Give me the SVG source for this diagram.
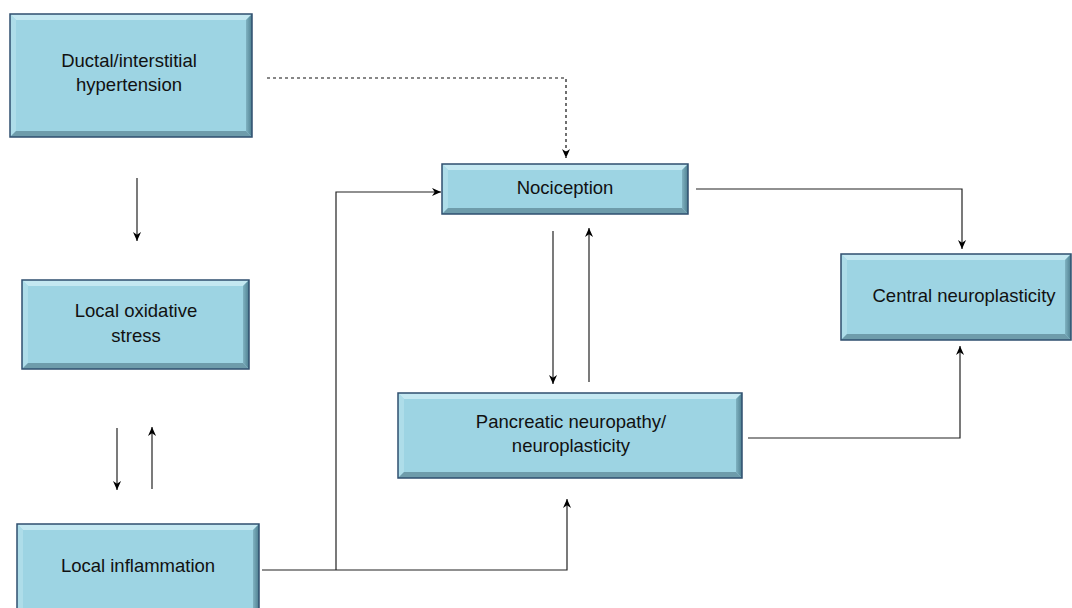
<svg xmlns="http://www.w3.org/2000/svg" width="1072" height="608" viewBox="0 0 1072 608">
<defs>
<marker id="ah" viewBox="0 0 10 10" refX="10" refY="5" markerWidth="10" markerHeight="9" markerUnits="userSpaceOnUse" orient="auto">
<path d="M0,0.5 L10,5 L0,9.5 L3,5 Z" fill="#000"/>
</marker>
<linearGradient id="gr" x1="0" y1="0" x2="1" y2="0">
<stop offset="0" stop-color="#7FB2C1"/>
<stop offset="1" stop-color="#4E7F90"/>
</linearGradient>
</defs>
<style>
.face{fill:#9DD4E3}
.bt{fill:#C4E8F1}
.bl{fill:#AEDDE9}
.br{fill:url(#gr)}
.bb{fill:#6E9CAB}
.edge{fill:none;stroke:#2F4F6F;stroke-width:1.5}
.lbl{font-family:"Liberation Sans",Arial,sans-serif;font-size:18.5px;fill:#111;text-anchor:middle}
.c{fill:none;stroke:#222;stroke-width:1.2}
.d{fill:none;stroke:#111;stroke-width:1.2;stroke-dasharray:3,3}
</style>

<g id="connectors">
<path class="d" d="M267,78 H566 V158" marker-end="url(#ah)"/>
<path class="c" d="M137,178 V241" marker-end="url(#ah)"/>
<path class="c" d="M117,428 V490" marker-end="url(#ah)"/>
<path class="c" d="M152,489 V427" marker-end="url(#ah)"/>
<path class="c" d="M262,570 H567 V499" marker-end="url(#ah)"/>
<path class="c" d="M336,570 V192 H441" marker-end="url(#ah)"/>
<path class="c" d="M553,231 V384" marker-end="url(#ah)"/>
<path class="c" d="M589,382 V228" marker-end="url(#ah)"/>
<path class="c" d="M696,189 H962 V249" marker-end="url(#ah)"/>
<path class="c" d="M748,438 H960 V346" marker-end="url(#ah)"/>
</g>

<g id="node-ductal">
<rect class="face" x="10" y="14" width="242" height="123"/>
<polygon class="bt" points="10,14 252,14 246,20 16,20"/>
<polygon class="bl" points="10,14 16,20 16,131 10,137"/>
<polygon class="br" points="252,14 252,137 246,131 246,20"/>
<polygon class="bb" points="10,137 252,137 246,131 16,131"/>
<rect class="edge" x="10" y="14" width="242" height="123"/>
<text class="lbl" x="129" y="67">Ductal/interstitial</text>
<text class="lbl" x="129" y="91">hypertension</text>
</g>

<g id="node-oxidative">
<rect class="face" x="22" y="280" width="227" height="89"/>
<polygon class="bt" points="22,280 249,280 243,286 28,286"/>
<polygon class="bl" points="22,280 28,286 28,363 22,369"/>
<polygon class="br" points="249,280 249,369 243,363 243,286"/>
<polygon class="bb" points="22,369 249,369 243,363 28,363"/>
<rect class="edge" x="22" y="280" width="227" height="89"/>
<text class="lbl" x="136" y="317">Local oxidative</text>
<text class="lbl" x="136" y="342">stress</text>
</g>

<g id="node-inflammation">
<rect class="face" x="17" y="524" width="242" height="96"/>
<polygon class="bt" points="17,524 259,524 253,530 23,530"/>
<polygon class="bl" points="17,524 23,530 23,614 17,620"/>
<polygon class="br" points="259,524 259,620 253,614 253,530"/>
<polygon class="bb" points="17,620 259,620 253,614 23,614"/>
<rect class="edge" x="17" y="524" width="242" height="96"/>
<text class="lbl" x="138" y="572">Local inflammation</text>
</g>

<g id="node-nociception">
<rect class="face" x="442" y="164" width="246" height="50"/>
<polygon class="bt" points="442,164 688,164 682,170 448,170"/>
<polygon class="bl" points="442,164 448,170 448,208 442,214"/>
<polygon class="br" points="688,164 688,214 682,208 682,170"/>
<polygon class="bb" points="442,214 688,214 682,208 448,208"/>
<rect class="edge" x="442" y="164" width="246" height="50"/>
<text class="lbl" x="565" y="194">Nociception</text>
</g>

<g id="node-pancreatic">
<rect class="face" x="398" y="393" width="344" height="85"/>
<polygon class="bt" points="398,393 742,393 736,399 404,399"/>
<polygon class="bl" points="398,393 404,399 404,472 398,478"/>
<polygon class="br" points="742,393 742,478 736,472 736,399"/>
<polygon class="bb" points="398,478 742,478 736,472 404,472"/>
<rect class="edge" x="398" y="393" width="344" height="85"/>
<text class="lbl" x="571" y="428">Pancreatic neuropathy/</text>
<text class="lbl" x="571" y="452">neuroplasticity</text>
</g>

<g id="node-central">
<rect class="face" x="841" y="254" width="230" height="86"/>
<polygon class="bt" points="841,254 1071,254 1065,260 847,260"/>
<polygon class="bl" points="841,254 847,260 847,334 841,340"/>
<polygon class="br" points="1071,254 1071,340 1065,334 1065,260"/>
<polygon class="bb" points="841,340 1071,340 1065,334 847,334"/>
<rect class="edge" x="841" y="254" width="230" height="86"/>
<text class="lbl" x="964" y="302">Central neuroplasticity</text>
</g>
</svg>
